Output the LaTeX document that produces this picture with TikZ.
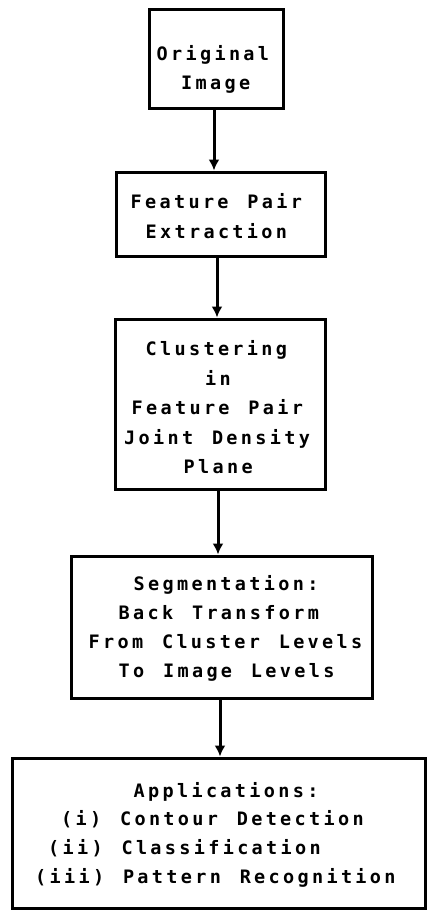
\documentclass[tikz,border=0pt]{standalone}
\usepackage{fontspec}
\usetikzlibrary{arrows.meta}
\newfontfamily\monofont[LetterSpace=18,WordSpace=1.3]{DejaVu Sans Mono}
\tikzset{
  boxnode/.style={draw, line width=3pt, rectangle, inner sep=0pt},
  txt/.style={anchor=base west, inner sep=0pt, font=\monofont\bfseries\fontsize{18.5}{22}\selectfont},
  arr/.style={line width=3pt, -{Latex[length=11pt,width=11pt]}}
}
\begin{document}
\begin{tikzpicture}[x=1pt,y=-1pt]
\useasboundingbox (0,0) rectangle (427,914);
% boxes
\node[boxnode, minimum width=134pt, minimum height=99pt]  (b1) at (216,58.5) {};
\node[boxnode, minimum width=209pt, minimum height=84pt]  (b2) at (220.5,214) {};
\node[boxnode, minimum width=210pt, minimum height=170pt] (b3) at (220,404) {};
\node[boxnode, minimum width=301pt, minimum height=142pt] (b4) at (221.5,627) {};
\node[boxnode, minimum width=413pt, minimum height=150pt] (b5) at (218.5,833) {};
% texts
\node[txt] (t11) at (156.5,60) {Original};
\node[txt] (t12) at (181,89) {Image};
\node[txt] (t21) at (130.5,208) {Feature Pair};
\node[txt] (t22) at (145.5,238) {Extraction};
\node[txt] (t31) at (145.5,355) {Clustering};
\node[txt] (t32) at (205,385) {in};
\node[txt] (t33) at (131.5,414) {Feature Pair};
\node[txt] (t34) at (124,444) {Joint Density};
\node[txt] (t35) at (183.5,473) {Plane};
\node[txt] (t41) at (133.5,590) {Segmentation:};
\node[txt] (t42) at (118.5,619) {Back Transform};
\node[txt] (t43) at (88.5,648) {From Cluster Levels};
\node[txt] (t44) at (118.5,677) {To Image Levels};
\node[txt] (t51) at (133.5,797) {Applications:};
\node[txt] (t52) at (61,825) {(i) Contour Detection};
\node[txt] (t53) at (48,854) {(ii) Classification};
\node[txt] (t54) at (35,883) {(iii) Pattern Recognition};
% arrows
\draw[arr] ([xshift=-2pt]b1.south) -- ([xshift=-2pt]b1.south |- b2.north);
\draw[arr] ([xshift=-3.5pt]b2.south) -- ([xshift=-3.5pt]b2.south |- b3.north);
\draw[arr] ([xshift=-2pt]b3.south) -- ([xshift=-2pt]b3.south |- b4.north);
\draw[arr] ([xshift=-1.5pt]b4.south) -- ([xshift=-1.5pt]b4.south |- b5.north);
\end{tikzpicture}
\end{document}
